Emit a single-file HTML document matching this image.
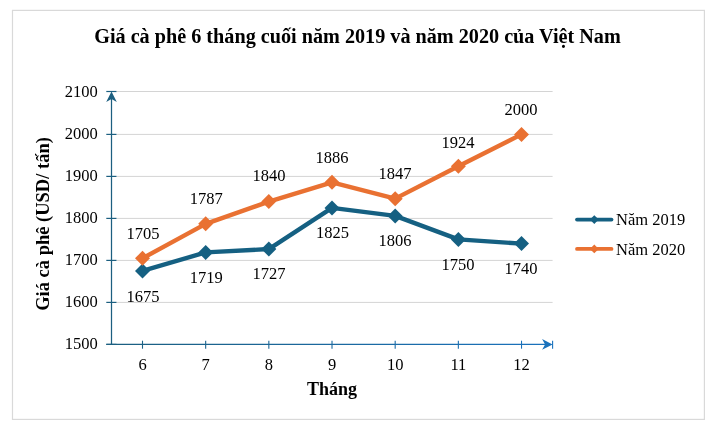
<!DOCTYPE html>
<html><head><meta charset="utf-8"><style>
html,body{margin:0;padding:0;background:#fff;}
#w{position:absolute;left:0;top:0;width:716px;height:431px;will-change:transform;}
body{width:716px;height:431px;position:relative;overflow:hidden;font-family:"Liberation Serif",serif;color:#000;}
  .n{position:absolute;transform:translate(-50%,-50%);font-size:16.5px;line-height:20px;white-space:nowrap;}
.yl{position:absolute;left:40.8px;width:57px;text-align:right;font-size:16.5px;line-height:20px;}
.title{position:absolute;left:-0.5px;width:716px;top:24.4px;text-align:center;font-weight:bold;font-size:20.2px;line-height:24px;white-space:nowrap;}
.xt{position:absolute;left:282px;width:100px;text-align:center;top:379.2px;font-weight:bold;font-size:18px;line-height:20px;}
.yt{position:absolute;left:43px;top:223.5px;transform:translate(-50%,-50%) rotate(-90deg);font-weight:bold;font-size:18.5px;line-height:20px;white-space:nowrap;}
.lg{position:absolute;left:616px;font-size:16.5px;line-height:20px;white-space:nowrap;}
</style></head><body><div id="w">
<svg width="716" height="431" viewBox="0 0 716 431" style="position:absolute;left:0;top:0"><rect x="12.5" y="10.4" width="691.9" height="409" fill="#fff" stroke="#d9d9d9" stroke-width="1.2"/><defs><linearGradient id="gx" gradientUnits="userSpaceOnUse" x1="106" y1="0" x2="553" y2="0"><stop offset="0" stop-color="#1c5f80"/><stop offset="1" stop-color="#1a72bd"/></linearGradient></defs><line x1="116.5" x2="552.6" y1="302.40" y2="302.40" stroke="#d4d4d4" stroke-width="1"/><line x1="116.5" x2="552.6" y1="260.40" y2="260.40" stroke="#d4d4d4" stroke-width="1"/><line x1="116.5" x2="552.6" y1="218.40" y2="218.40" stroke="#d4d4d4" stroke-width="1"/><line x1="116.5" x2="552.6" y1="176.40" y2="176.40" stroke="#d4d4d4" stroke-width="1"/><line x1="116.5" x2="552.6" y1="134.40" y2="134.40" stroke="#d4d4d4" stroke-width="1"/><line x1="116.5" x2="552.6" y1="91.50" y2="91.50" stroke="#d4d4d4" stroke-width="1"/><line x1="111.5" x2="111.5" y1="344.4" y2="94.50" stroke="#1c5f80" stroke-width="1.25"/><line x1="106.3" x2="116.5" y1="344.40" y2="344.40" stroke="#1c5f80" stroke-width="1.2"/><line x1="106.3" x2="116.5" y1="302.40" y2="302.40" stroke="#1c5f80" stroke-width="1.2"/><line x1="106.3" x2="116.5" y1="260.40" y2="260.40" stroke="#1c5f80" stroke-width="1.2"/><line x1="106.3" x2="116.5" y1="218.40" y2="218.40" stroke="#1c5f80" stroke-width="1.2"/><line x1="106.3" x2="116.5" y1="176.40" y2="176.40" stroke="#1c5f80" stroke-width="1.2"/><line x1="106.3" x2="116.5" y1="134.40" y2="134.40" stroke="#1c5f80" stroke-width="1.2"/><line x1="106.3" x2="116.5" y1="91.50" y2="91.50" stroke="#1c5f80" stroke-width="1.2"/><path d="M111.5,91.50 L116.8,101.90 L111.5,98.90 L106.2,101.90 Z" fill="#1c5f80"/><line x1="106.3" x2="549.6" y1="344.4" y2="344.40099999999995" stroke="url(#gx)" stroke-width="1.25"/><line x1="142.50" x2="142.50" y1="340.7" y2="348.7" stroke="url(#gx)" stroke-width="1.1"/><line x1="205.67" x2="205.67" y1="340.7" y2="348.7" stroke="url(#gx)" stroke-width="1.1"/><line x1="268.84" x2="268.84" y1="340.7" y2="348.7" stroke="url(#gx)" stroke-width="1.1"/><line x1="332.01" x2="332.01" y1="340.7" y2="348.7" stroke="url(#gx)" stroke-width="1.1"/><line x1="395.18" x2="395.18" y1="340.7" y2="348.7" stroke="url(#gx)" stroke-width="1.1"/><line x1="458.35" x2="458.35" y1="340.7" y2="348.7" stroke="url(#gx)" stroke-width="1.1"/><line x1="521.52" x2="521.52" y1="340.7" y2="348.7" stroke="url(#gx)" stroke-width="1.1"/><line x1="552.6" x2="552.6" y1="340.7" y2="348.7" stroke="url(#gx)" stroke-width="1.1"/><path d="M552.6,344.4 L542.1,339.09999999999997 L545.1,344.4 L542.1,349.7 Z" fill="url(#gx)"/><polyline points="142.50,270.90 205.67,252.42 268.84,249.06 332.01,207.90 395.18,215.88 458.35,239.40 521.52,243.60" fill="none" stroke="#156082" stroke-width="4.4" stroke-linejoin="round" stroke-linecap="round"/><path d="M142.50,263.40 L150.00,270.90 L142.50,278.40 L135.00,270.90 Z" fill="#156082"/><path d="M205.67,244.92 L213.17,252.42 L205.67,259.92 L198.17,252.42 Z" fill="#156082"/><path d="M268.84,241.56 L276.34,249.06 L268.84,256.56 L261.34,249.06 Z" fill="#156082"/><path d="M332.01,200.40 L339.51,207.90 L332.01,215.40 L324.51,207.90 Z" fill="#156082"/><path d="M395.18,208.38 L402.68,215.88 L395.18,223.38 L387.68,215.88 Z" fill="#156082"/><path d="M458.35,231.90 L465.85,239.40 L458.35,246.90 L450.85,239.40 Z" fill="#156082"/><path d="M521.52,236.10 L529.02,243.60 L521.52,251.10 L514.02,243.60 Z" fill="#156082"/><polyline points="142.50,258.30 205.67,223.86 268.84,201.60 332.01,182.28 395.18,198.66 458.35,166.32 521.52,134.40" fill="none" stroke="#E97132" stroke-width="4.4" stroke-linejoin="round" stroke-linecap="round"/><path d="M142.50,250.80 L150.00,258.30 L142.50,265.80 L135.00,258.30 Z" fill="#E97132"/><path d="M205.67,216.36 L213.17,223.86 L205.67,231.36 L198.17,223.86 Z" fill="#E97132"/><path d="M268.84,194.10 L276.34,201.60 L268.84,209.10 L261.34,201.60 Z" fill="#E97132"/><path d="M332.01,174.78 L339.51,182.28 L332.01,189.78 L324.51,182.28 Z" fill="#E97132"/><path d="M395.18,191.16 L402.68,198.66 L395.18,206.16 L387.68,198.66 Z" fill="#E97132"/><path d="M458.35,158.82 L465.85,166.32 L458.35,173.82 L450.85,166.32 Z" fill="#E97132"/><path d="M521.52,126.90 L529.02,134.40 L521.52,141.90 L514.02,134.40 Z" fill="#E97132"/><line x1="577" x2="611.5" y1="219.55" y2="219.55" stroke="#156082" stroke-width="3.8" stroke-linecap="round"/><path d="M594.3,215.15 L598.6999999999999,219.55 L594.3,223.95000000000002 L589.9,219.55 Z" fill="#156082"/><line x1="577" x2="611.5" y1="248.9" y2="248.9" stroke="#E97132" stroke-width="3.8" stroke-linecap="round"/><path d="M594.3,244.5 L598.6999999999999,248.9 L594.3,253.3 L589.9,248.9 Z" fill="#E97132"/></svg>
<div class="title">Giá cà phê 6 tháng cuối năm 2019 và năm 2020 của Việt Nam</div>
<div class="yl" style="top:334.4px">1500</div><div class="yl" style="top:292.4px">1600</div><div class="yl" style="top:250.4px">1700</div><div class="yl" style="top:208.4px">1800</div><div class="yl" style="top:166.4px">1900</div><div class="yl" style="top:124.4px">2000</div><div class="yl" style="top:82.4px">2100</div><div class="n" style="left:142.5px;top:365.2px;">6</div><div class="n" style="left:205.7px;top:365.2px;">7</div><div class="n" style="left:268.8px;top:365.2px;">8</div><div class="n" style="left:332.0px;top:365.2px;">9</div><div class="n" style="left:395.2px;top:365.2px;">10</div><div class="n" style="left:458.4px;top:365.2px;">11</div><div class="n" style="left:521.5px;top:365.2px;">12</div><div class="n" style="left:143.0px;top:296.8px;">1675</div><div class="n" style="left:206.3px;top:277.5px;">1719</div><div class="n" style="left:269.0px;top:274.3px;">1727</div><div class="n" style="left:332.5px;top:232.5px;">1825</div><div class="n" style="left:395.0px;top:241.0px;">1806</div><div class="n" style="left:458.0px;top:265.0px;">1750</div><div class="n" style="left:521.0px;top:269.0px;">1740</div><div class="n" style="left:143.0px;top:234.0px;">1705</div><div class="n" style="left:206.3px;top:198.7px;">1787</div><div class="n" style="left:269.0px;top:176.3px;">1840</div><div class="n" style="left:332.0px;top:158.0px;">1886</div><div class="n" style="left:395.0px;top:174.0px;">1847</div><div class="n" style="left:458.0px;top:142.5px;">1924</div><div class="n" style="left:521.0px;top:109.8px;">2000</div>
<div class="xt">Tháng</div>
<div class="yt">Giá cà phê (USD/ tấn)</div>
<div class="lg" style="top:209.5px">Năm 2019</div>
<div class="lg" style="top:239.5px">Năm 2020</div>
</div></body></html>
